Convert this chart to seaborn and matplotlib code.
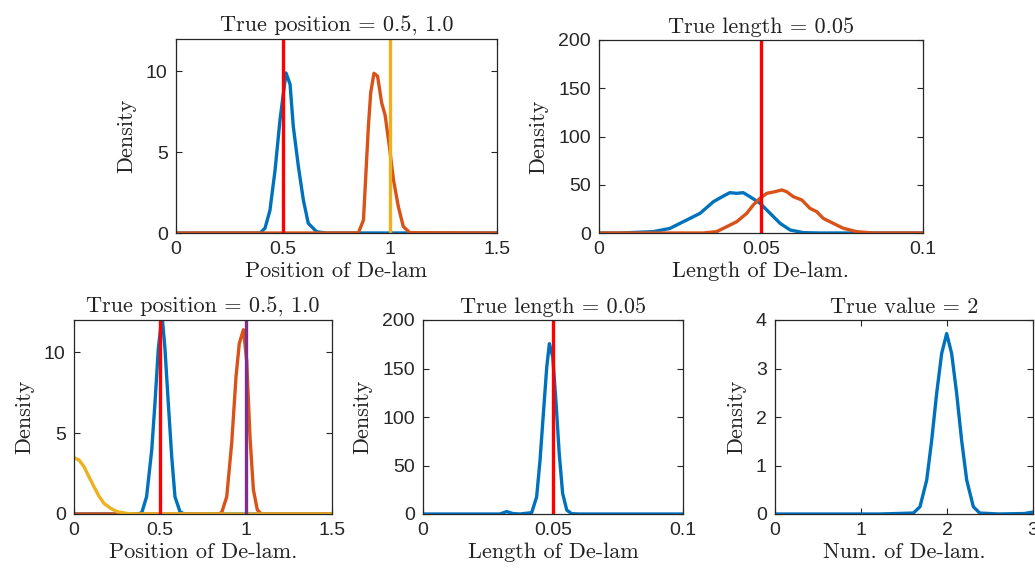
import numpy as np
import pandas as pd
import matplotlib
matplotlib.use("Agg")
import matplotlib.pyplot as plt
import seaborn as sns
from matplotlib.ticker import FormatStrFormatter

# cores padrão do MATLAB
AZUL = "#0072BD"
LARANJA = "#D95319"
AMARELO = "#EDB120"
ROXO = "#7E2F8E"
VERMELHO = "#FF0000"

# --- Painel 1: posição (2 de-lams) ---
p1_azul_x = [0.0, 0.393, 0.416, 0.439, 0.463, 0.486, 0.514, 0.533, 0.548, 0.572, 0.595, 0.618, 0.657, 0.70, 1.5]
p1_azul_y = [0.0, 0.0, 0.3, 1.4, 3.9, 7.0, 9.9, 9.2, 6.6, 4.1, 2.05, 0.6, 0.08, 0.0, 0.0]
p1_lar_x = [0.0, 0.852, 0.876, 0.899, 0.910, 0.925, 0.942, 0.961, 0.977, 0.997, 1.016, 1.039, 1.062, 1.093, 1.5]
p1_lar_y = [0.0, 0.0, 0.8, 6.6, 8.7, 9.88, 9.7, 8.05, 7.3, 5.36, 3.3, 1.63, 0.4, 0.02, 0.0]

# --- Painel 2: comprimento (2 de-lams) ---
p2_azul_x = [0.0, 0.0065, 0.0168, 0.0219, 0.0271, 0.0312, 0.0353, 0.0384, 0.0404, 0.0425, 0.0445,
             0.0466, 0.0497, 0.0528, 0.0559, 0.0590, 0.0631, 0.0682, 0.1]
p2_azul_y = [0.0, 0.0, 1.4, 4.8, 13.5, 20.4, 32.4, 38.3, 41.8, 41.1, 41.8,
             37.6, 30.8, 20.4, 10.0, 3.1, 0.35, 0.0, 0.0]
p2_lar_x = [0.0, 0.0322, 0.0363, 0.0394, 0.0425, 0.0456, 0.0476, 0.0497, 0.0518, 0.0543, 0.0564,
            0.0579, 0.0600, 0.0626, 0.0651, 0.0672, 0.0692, 0.0723, 0.0754, 0.0795, 0.0847, 0.1]
p2_lar_y = [0.0, 0.0, 1.4, 6.5, 11.7, 20.4, 29.0, 36.0, 41.1, 42.8, 44.6,
            42.8, 37.6, 34.2, 25.6, 22.1, 15.2, 10.0, 4.9, 1.4, 0.0, 0.0]

# --- Painel 3: posição (3 de-lams) ---
p3_azul_x = [0.0, 0.37, 0.394, 0.422, 0.452, 0.471, 0.490, 0.512, 0.529, 0.548, 0.568, 0.587, 0.616, 0.64, 1.5]
p3_azul_y = [0.0, 0.0, 0.08, 1.07, 3.97, 6.9, 10.2, 12.3, 10.2, 6.9, 3.56, 1.07, 0.15, 0.0, 0.0]
p3_lar_x = [0.0, 0.84, 0.859, 0.888, 0.917, 0.942, 0.961, 0.985, 1.004, 1.023, 1.043, 1.066, 1.09, 1.5]
p3_lar_y = [0.0, 0.0, 0.1, 1.07, 4.4, 8.5, 10.55, 11.4, 9.5, 4.8, 1.5, 0.25, 0.0, 0.0]
p3_ama_x = [0.0, 0.029, 0.058, 0.087, 0.116, 0.145, 0.174, 0.213, 0.252, 0.31, 0.37, 1.5]
p3_ama_y = [3.48, 3.34, 2.93, 2.3, 1.69, 1.11, 0.66, 0.35, 0.14, 0.03, 0.0, 0.0]

# --- Painel 4: comprimento (1 de-lam) ---
p4_x = [0.0, 0.0296, 0.0322, 0.0345, 0.0373, 0.0418, 0.0437, 0.0450, 0.0463, 0.0476, 0.0486,
        0.0499, 0.0512, 0.0524, 0.0537, 0.0553, 0.0572, 0.060, 0.1]
p4_y = [0.0, 0.0, 2.5, 0.5, 0.0, 1.4, 17.5, 55.0, 103.6, 151.6, 175.6,
        161.9, 113.6, 62.0, 21.3, 4.0, 0.3, 0.0, 0.0]

# --- Painel 5: número de de-lams ---
p5_x = [0.0, 1.221, 1.609, 1.686, 1.764, 1.822, 1.880, 1.938, 1.996, 2.054, 2.112,
        2.170, 2.229, 2.306, 2.38, 2.6, 2.9, 3.0]
p5_y = [0.0, 0.0, 0.02, 0.15, 0.7, 1.52, 2.49, 3.31, 3.72, 3.31, 2.49,
        1.52, 0.7, 0.15, 0.02, 0.0, 0.01, 0.04]

sns.set_style("ticks")
plt.rcParams["font.family"] = ["Liberation Sans", "DejaVu Sans"]
SERIF = ["cmr10", "DejaVu Serif"]

W, H = 1035, 571
fig = plt.figure(figsize=(W / 100, H / 100), dpi=100)


def eixo(esq, dir_, topo, base):
    return fig.add_axes([esq / W, (H - base) / H, (dir_ - esq) / W, (base - topo) / H])


def curva(ax, x, y, cor):
    df = pd.DataFrame({"x": x, "y": y})
    sns.lineplot(data=df, x="x", y="y", color=cor, linewidth=2.4, ax=ax, estimator=None, sort=False)


def formatar(ax, xlim, ylim, xticks, yticks, titulo, xlab, fmt="%g"):
    ax.set_xlim(xlim)
    ax.set_ylim(ylim)
    ax.set_xticks(xticks)
    ax.set_yticks(yticks)
    ax.xaxis.set_major_formatter(FormatStrFormatter(fmt))
    ax.yaxis.set_major_formatter(FormatStrFormatter("%g"))
    ax.tick_params(direction="in", top=True, right=True, length=4, width=0.8,
                   colors="#262626", labelsize=14, pad=6)
    for s in ax.spines.values():
        s.set_color("#262626")
        s.set_linewidth(0.9)
        s.set_visible(True)
    ax.set_title(titulo, family=SERIF, fontsize=16, pad=5, color="#222222")
    ax.set_xlabel(xlab, family=SERIF, fontsize=16, labelpad=2, color="#222222")
    ax.set_ylabel("Density", family=SERIF, fontsize=16, labelpad=7, color="#222222")


# Painel 1
ax1 = eixo(176, 497, 39, 233)
curva(ax1, p1_azul_x, p1_azul_y, AZUL)
curva(ax1, p1_lar_x, p1_lar_y, LARANJA)
ax1.axvline(0.5, color=VERMELHO, linewidth=2.4)
ax1.axvline(1.0, color=AMARELO, linewidth=2.4)
formatar(ax1, (0, 1.5), (0, 12), [0, 0.5, 1, 1.5], [0, 5, 10],
         "True position = 0.5, 1.0", "Position of De-lam")

# Painel 2
ax2 = eixo(599, 923, 40, 233)
curva(ax2, p2_azul_x, p2_azul_y, AZUL)
curva(ax2, p2_lar_x, p2_lar_y, LARANJA)
ax2.axvline(0.05, color=VERMELHO, linewidth=2.4)
formatar(ax2, (0, 0.1), (0, 200), [0, 0.05, 0.1], [0, 50, 100, 150, 200],
         "True length = 0.05", "Length of De-lam.")

# Painel 3
ax3 = eixo(74, 332, 320, 514)
curva(ax3, p3_azul_x, p3_azul_y, AZUL)
curva(ax3, p3_lar_x, p3_lar_y, LARANJA)
curva(ax3, p3_ama_x, p3_ama_y, AMARELO)
ax3.axvline(0.5, color=VERMELHO, linewidth=2.4)
ax3.axvline(1.0, color=ROXO, linewidth=2.4)
formatar(ax3, (0, 1.5), (0, 12), [0, 0.5, 1, 1.5], [0, 5, 10],
         "True position = 0.5, 1.0", "Position of De-lam.")

# Painel 4
ax4 = eixo(423, 683, 320, 514)
curva(ax4, p4_x, p4_y, AZUL)
ax4.axvline(0.05, color=VERMELHO, linewidth=2.4)
formatar(ax4, (0, 0.1), (0, 200), [0, 0.05, 0.1], [0, 50, 100, 150, 200],
         "True length = 0.05", "Length of De-lam")

# Painel 5
ax5 = eixo(775, 1033, 320, 514)
curva(ax5, p5_x, p5_y, AZUL)
formatar(ax5, (0, 3), (0, 4), [0, 1, 2, 3], [0, 1, 2, 3, 4],
         "True value = 2", "Num. of De-lam.")

plt.savefig("out.png", dpi=100)
